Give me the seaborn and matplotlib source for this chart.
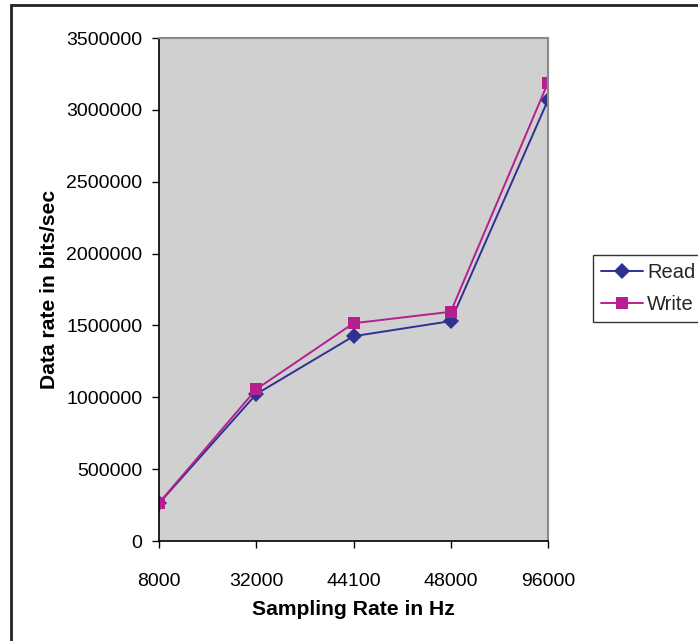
import matplotlib
matplotlib.use("Agg")
import matplotlib.pyplot as plt
import matplotlib.patches as patches
import seaborn as sns
import pandas as pd

sampling_rates = ["8000", "32000", "44100", "48000", "96000"]
read_rates = [262000, 1022000, 1425000, 1530000, 3068000]
write_rates = [265000, 1056000, 1515000, 1595000, 3190000]
y_ticks = [0, 500000, 1000000, 1500000, 2000000, 2500000, 3000000, 3500000]

df = pd.DataFrame({
    "rate": sampling_rates * 2,
    "value": read_rates + write_rates,
    "series": ["Read"] * len(read_rates) + ["Write"] * len(write_rates),
})

sns.set_theme(style="white")
plt.rcParams["font.family"] = ["Liberation Sans", "DejaVu Sans"]

W, H = 698, 641
fig = plt.figure(figsize=(W / 100, H / 100), dpi=100)
ax = fig.add_axes([159 / W, 1 - 541 / H, 389 / W, 503 / H])
ax.set_facecolor("#D0D0D0")

palette = {"Read": "#2E3192", "Write": "#B5208E"}
sns.lineplot(data=df, x="rate", y="value", hue="series", style="series",
             markers={"Read": "D", "Write": "s"}, dashes=False,
             palette=palette, sort=False, ax=ax, linewidth=1.4,
             markersize=8.5, markeredgewidth=0, legend=True)

ax.set_xlim(0, 4)
ax.set_ylim(0, 3500000)
ax.set_yticks(y_ticks)
ax.set_yticklabels([str(v) for v in y_ticks])
ax.set_xticks(range(len(sampling_rates)))
ax.set_xticklabels(sampling_rates)
ax.tick_params(axis="both", which="major", labelsize=14, length=5, width=1,
               direction="out", color="black", labelcolor="black", pad=7)
ax.tick_params(axis="x", pad=18)
ax.tick_params(bottom=True, left=True)

for s in ["left", "bottom"]:
    ax.spines[s].set_color("black")
    ax.spines[s].set_linewidth(1.2)
for s in ["top", "right"]:
    ax.spines[s].set_color("#8A8A8A")
    ax.spines[s].set_linewidth(1.5)

ax.set_xlabel("Sampling Rate in Hz", fontsize=15.2, fontweight="bold", labelpad=7, color="black")
ax.set_ylabel("Data rate in bits/sec", fontsize=15.2, fontweight="bold", labelpad=5, color="black")

handles, labels = ax.get_legend_handles_labels()
leg = ax.legend(handles, labels, loc="upper left",
                bbox_to_anchor=(593 / W, 1 - 255 / H), bbox_transform=fig.transFigure,
                borderaxespad=0, frameon=True, fancybox=False, fontsize=14.5,
                handlelength=2.1, handletextpad=0.2, borderpad=0.4, labelspacing=0.65)
leg.get_frame().set_edgecolor("black")
leg.get_frame().set_linewidth(1.0)
leg.get_frame().set_facecolor("white")

frame = patches.Rectangle((11.5 / W, -0.1), 1.2, 1 - 4.5 / H + 0.1,
                          transform=fig.transFigure, fill=False,
                          edgecolor="#222222", linewidth=2, clip_on=False)
fig.patches.append(frame)

fig.savefig("out.png", dpi=100, facecolor="white")
